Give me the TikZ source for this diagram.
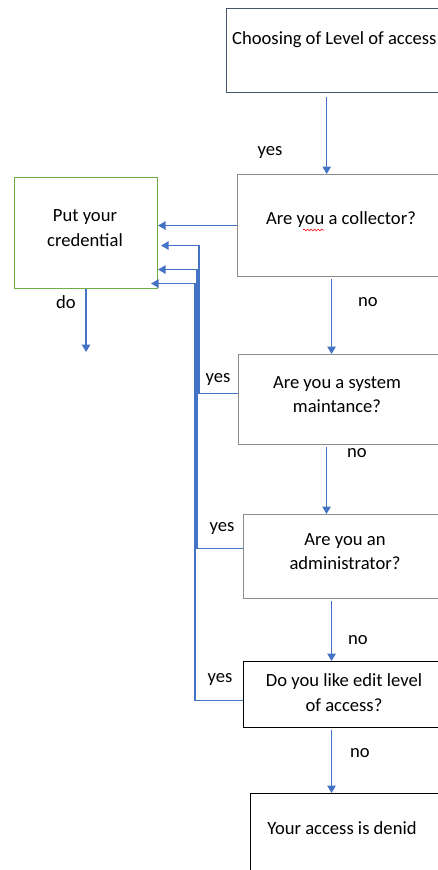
\documentclass[tikz,border=0pt]{standalone}
\usepackage{fontspec}
\setmainfont{Carlito}
\usetikzlibrary{arrows.meta,decorations.pathmorphing}
\definecolor{flowblue}{HTML}{4472C4}
\definecolor{slateb}{HTML}{44546A}
\definecolor{boxgray}{HTML}{8C8C8C}
\definecolor{credgreen}{HTML}{70AD47}
\begin{document}
\begin{tikzpicture}[x=1pt,y=-1pt,
  txt/.style={font=\fontsize{18.6}{24.5}\selectfont, inner sep=0pt, align=center},
  boxn/.style={draw, anchor=north west, inner sep=0pt, line width=1.1pt},
  arr/.style={draw=flowblue, line width=1.3pt, -{Triangle[width=8.5pt,length=7.5pt]}},
  ln/.style={draw=flowblue, line width=1.3pt}]
\useasboundingbox (0,0) rectangle (438,870);
\clip (0,0) rectangle (438,870);
% boxes
\node[boxn, draw=slateb, line width=1.4pt, minimum width=219pt, minimum height=84pt] (top) at (226,8) {};
\node[boxn, draw=boxgray, minimum width=208pt, minimum height=102pt] (coll) at (237,174) {};
\node[boxn, draw=credgreen, minimum width=143pt, minimum height=111pt] (cred) at (14,177) {};
\node[boxn, draw=boxgray, minimum width=207pt, minimum height=90pt] (sys) at (238,354) {};
\node[boxn, draw=boxgray, minimum width=202pt, minimum height=84pt] (adm) at (243,514) {};
\node[boxn, draw=black, minimum width=202pt, minimum height=66pt] (edit) at (243,661) {};
\node[boxn, draw=black, minimum width=195pt, minimum height=90pt] (deny) at (250,793) {};
% texts
\node[txt, anchor=west] (ttop) at (232,39.5) {Choosing of Level of access};
\node[txt] (tcoll) at (341,219.5) {Are you a collector?};
\node[txt] (tcred) at (85,228) {Put your\\credential};
\node[txt] (tsys) at (337,394.5) {Are you a system\\maintance?};
\node[txt] (tadm) at (345,551.5) {Are you an\\administrator?};
\node[txt] (tedit) at (344,692.5) {Do you like edit level\\of access?};
\node[txt] (tdeny) at (342,828.5) {Your access is denid};
% labels
\node[txt] (y1) at (270,152.5) {yes};
\node[txt] (y2) at (218,379.5) {yes};
\node[txt] (y3) at (222,528.5) {yes};
\node[txt] (y4) at (220,679.5) {yes};
\node[txt] (n1) at (368,302.5) {no};
\node[txt] (n2) at (357,453.5) {no};
\node[txt] (n3) at (358,640.5) {no};
\node[txt] (n4) at (360,753.5) {no};
\node[txt] (d1) at (66,302.5) {do};
% spelling squiggle
\coordinate (sq1) at (303,230);
\coordinate (sq2) at (324,230);
\draw[red, line width=0.6pt, decorate, decoration={snake, amplitude=0.9pt, segment length=3.5pt}] (sq1) -- (sq2);
% main flow
\coordinate (s1) at ([xshift=-9.5pt,yshift=-4pt]top.south);
\draw[arr] (s1) -- (s1 |- coll.north);
\coordinate (s2) at ([xshift=-10pt,yshift=-2pt]coll.south);
\draw[arr] (s2) -- (s2 |- sys.north);
\coordinate (s3) at ([xshift=-15.5pt,yshift=-2pt]sys.south);
\draw[arr] (s3) -- (s3 |- adm.north);
\coordinate (s4) at ([xshift=-13pt,yshift=-2pt]adm.south);
\draw[arr] (s4) -- (s4 |- edit.north);
\coordinate (s5) at ([xshift=-13pt,yshift=-2pt]edit.south);
\draw[arr] (s5) -- (s5 |- deny.north);
% to credential
\draw[arr] (coll.west) -- (coll.west -| cred.east);
\draw[arr] ([yshift=6pt]sys.west) -- ++(-39,0) |- ([xshift=3pt,yshift=-12.5pt]cred.east);
\draw[arr] ([yshift=8pt]adm.west) -- ++(-46,0) |- ([yshift=-36.5pt]cred.east);
\draw[arr] ([yshift=-6pt]edit.west) -- ++(-48,0) |- ([xshift=-7pt,yshift=-50.5pt]cred.east);
% do
\coordinate (doend) at (85,352);
\draw[arr] (cred.south) -- (cred.south |- doend);
\end{tikzpicture}
\end{document}
